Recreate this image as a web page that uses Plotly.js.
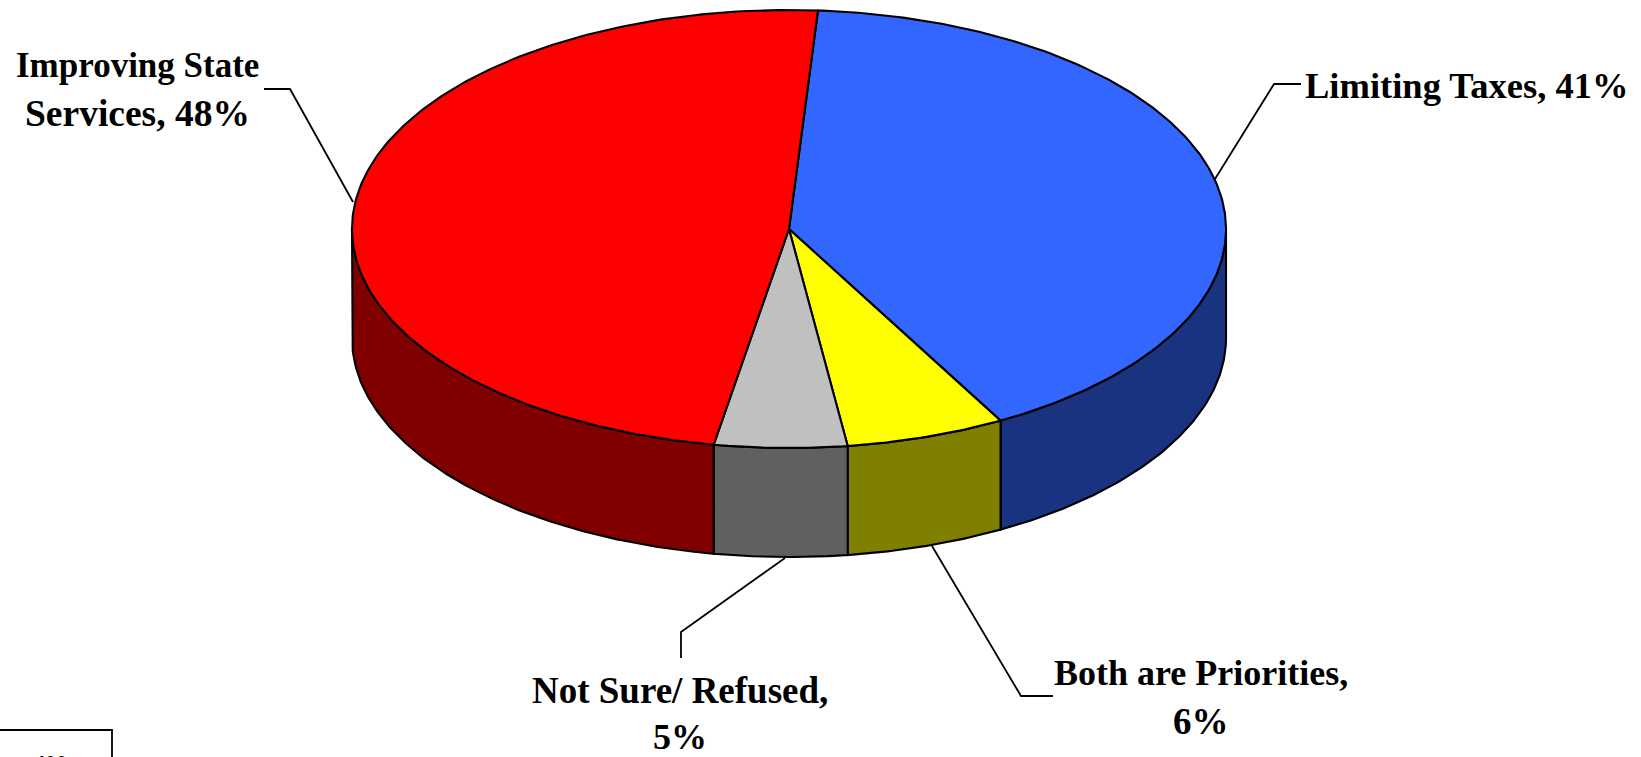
<!DOCTYPE html>
<html>
<head>
<meta charset="utf-8">
<script src="https://cdn.plot.ly/plotly-3.0.1.min.js"></script>
<style>html,body{margin:0;padding:0;background:#fff}#chart{width:1641px;height:757px}</style>
</head>
<body>
<div id="chart"></div>
<script>
// Data, clockwise from the near-top seam. Slice sizes;
// the printed labels are these values rounded.
const categories = ["Limiting Taxes", "Both are Priorities", "Not Sure/ Refused", "Improving State Services"];
const percents = [40.9, 5.9, 4.9, 48.3];
const topColors = ["#3366FF", "#FFFF00", "#C0C0C0", "#FF0000"];
const sideColors = ["#1A3380", "#808000", "#606060", "#800000"];

// Pie projection in page pixels
const cx = 789, cy = 229, rx = 437, ry = 219, depth = 109, startDeg = 3.8;
const outline = {color: "#000000", width: 2.1};
const rad = d => d * Math.PI / 180;
const px = d => cx + rx * Math.sin(rad(d));
const py = (d, dz) => cy - ry * Math.cos(rad(d)) + (dz || 0);
function arc(a, b, dz) {
  const n = Math.max(2, Math.ceil(Math.abs(b - a) * 1.5));
  const pts = [];
  for (let i = 0; i <= n; i++) {
    const d = a + (b - a) * i / n;
    pts.push([px(d), py(d, dz)]);
  }
  return pts;
}

const total = percents.reduce((s, v) => s + v, 0);
let cursor = startDeg;
const spans = percents.map(v => {
  const s = [cursor, cursor + v / total * 360];
  cursor = s[1];
  return s;
});

const traces = [];
function poly(pts, color) {
  const xs = pts.map(p => p[0]), ys = pts.map(p => p[1]);
  xs.push(xs[0]); ys.push(ys[0]);
  traces.push({
    type: "scatter", mode: "lines", x: xs, y: ys, fill: "toself",
    fillcolor: color, line: outline, hoverinfo: "skip", showlegend: false
  });
}
// Rim walls on the visible (front) half
spans.forEach((s, i) => {
  const a = Math.max(s[0], 90), b = Math.min(s[1], 270);
  if (b > a) poly(arc(a, b, 0).concat(arc(b, a, depth)), sideColors[i]);
});
// Top faces
spans.forEach((s, i) => {
  poly([[cx, cy]].concat(arc(s[0], s[1], 0)), topColors[i]);
});

// Labels, one annotation per line for the wide line spacing
const fontFamily = "Liberation Serif, Times New Roman, serif";
const shown = i => Math.round(percents[i]) + "%";
const labelLines = [
  ["Improving State", 137, 76, 35],
  ["Services, " + shown(3), 137, 124, 37.5],
  [categories[0] + ", " + shown(0), 1467, 96, 36.5],
  [categories[1] + ",", 1201, 684, 36],
  [shown(1), 1201, 732, 37],
  [categories[2] + ",", 680, 701, 37],
  [shown(2), 680, 748, 36]
];
const annotations = labelLines.map(l => ({
  xref: "x", yref: "y", x: l[1], y: l[2] - 11, xanchor: "center", yanchor: "middle",
  text: "<b>" + l[0] + "</b>", showarrow: false, borderpad: 0,
  font: {family: fontFamily, size: l[3], color: "#000000"}
}));
// Note box cut off by the bottom edge of the picture, as in the reference
annotations.push({
  xref: "x", yref: "y", x: 50, y: 748.5, xanchor: "center", yanchor: "top",
  text: "<b>400</b>", showarrow: false, borderpad: 0,
  font: {family: fontFamily, size: 22, color: "#000000"}
});

const shapes = [
  "M264,89 L290,89 L353,202",
  "M1301,84 L1274,84 L1215,179",
  "M785,558 L681,632 L681,658",
  "M932,546 L1021,696 L1053,696",
  "M0,730 L112,730 L112,757"
].map(path => ({
  type: "path", xref: "x", yref: "y", path: path,
  line: {color: "#000000", width: 1.8}, layer: "below"
}));

Plotly.newPlot("chart", traces, {
  width: 1641, height: 757,
  margin: {l: 0, r: 0, t: 0, b: 0},
  paper_bgcolor: "#FFFFFF", plot_bgcolor: "#FFFFFF",
  showlegend: false,
  xaxis: {range: [0, 1641], visible: false, fixedrange: true},
  yaxis: {range: [757, 0], visible: false, fixedrange: true},
  annotations: annotations,
  shapes: shapes
}, {displayModeBar: false, staticPlot: true});
</script>
</body>
</html>
